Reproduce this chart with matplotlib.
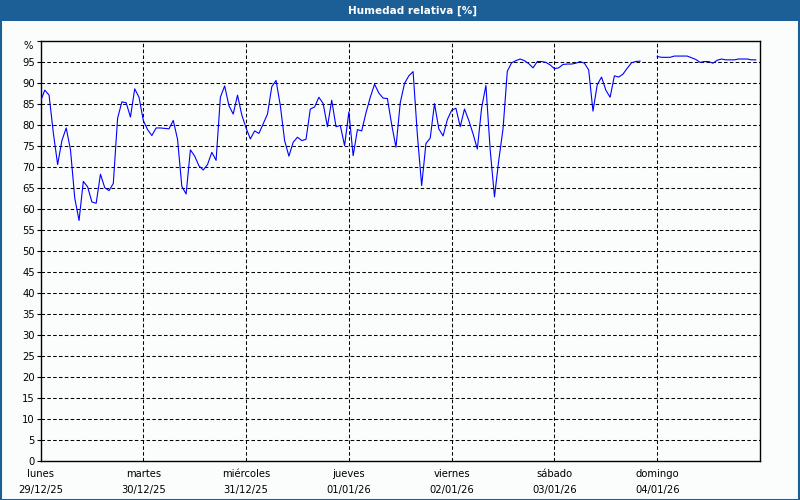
import numpy as np
import matplotlib
matplotlib.use("Agg")
import matplotlib.pyplot as plt
from matplotlib.patches import Rectangle
import matplotlib.transforms as mtransforms

title = "Humedad relativa [%]"
weekdays = ["lunes", "martes", "miércoles", "jueves", "viernes", "sábado", "domingo"]
dates = ["29/12/25", "30/12/25", "31/12/25", "01/01/26", "02/01/26", "03/01/26", "04/01/26"]

nan = np.nan
# hourly relative humidity per day (%)
day1 = [85.5, 88.2, 87.0, 78.0, 70.5, 76.2, 79.2, 74.0, 62.5, 57.2, 66.5, 65.2,
        61.6, 61.3, 68.2, 65.0, 64.3, 66.0, 81.5, 85.4, 85.2, 81.8, 88.5, 86.5]
day2 = [81.0, 78.8, 77.4, 79.2, 79.2, 79.1, 79.0, 81.0, 76.5, 65.3, 63.5, 74.0,
        72.5, 70.2, 69.2, 70.5, 73.4, 71.5, 86.5, 89.2, 84.5, 82.5, 87.0, 82.3]
day3 = [79.2, 76.6, 78.5, 77.9, 80.2, 82.5, 89.0, 90.5, 84.5, 76.2, 72.5, 75.8,
        77.0, 76.2, 76.5, 83.7, 84.2, 86.5, 85.0, 79.5, 85.8, 79.5, 79.8, 75.0]
day4 = [83.0, 72.6, 78.8, 78.5, 82.8, 86.5, 89.6, 87.5, 86.3, 86.2, 80.0, 74.6,
        85.2, 89.8, 91.6, 92.6, 77.5, 65.5, 75.5, 76.8, 85.0, 79.0, 77.3, 81.2]
day5 = [83.4, 83.9, 79.5, 83.7, 81.0, 77.8, 74.2, 84.0, 89.3, 74.0, 62.8, 71.5,
        79.0, 92.7, 94.7, 95.2, 95.6, 95.2, 94.5, 93.5, 95.0, 95.0, 94.8, 94.2]
day6 = [93.3, 93.5, 94.3, 94.4, 94.4, 94.6, 95.0, 94.6, 93.0, 83.2, 89.5, 91.3,
        88.2, 86.5, 91.6, 91.3, 92.0, 93.4, 94.7, 95.0, 95.1, nan, nan, nan]
day7 = [96.2, 96.0, 96.0, 96.0, 96.3, 96.3, 96.3, 96.3, 95.9, 95.5, 94.8, 95.0,
        95.0, 94.6, 95.3, 95.6, 95.4, 95.4, 95.4, 95.6, 95.6, 95.6, 95.4, 95.4]

values = np.array(day1 + day2 + day3 + day4 + day5 + day6 + day7)
t_days = np.arange(len(values)) / 24.0

W, H = 800, 500
fig = plt.figure(figsize=(W / 100, H / 100), dpi=100)
bg = "#fbfdfd"
blue = "#1c5f97"
fig.patch.set_facecolor(bg)

# title bar and window border
fig.add_artist(Rectangle((0, 1 - 21 / H), 1, 21 / H, transform=fig.transFigure,
                         facecolor=blue, edgecolor="none", zorder=0))
fig.add_artist(Rectangle((0.5 / W, 0.5 / H), 1 - 1.5 / W, 1 - 1.5 / H, transform=fig.transFigure,
                         facecolor="none", edgecolor=blue, linewidth=1.5, zorder=5))
fig.text(413 / W, 1 - 10.5 / H, title, color="white", fontsize=7.5, fontweight="bold",
         ha="center", va="center", family="DejaVu Sans")

left, right, top, bottom = 40.5, 760, 40.5, 461
ax = fig.add_axes([left / W, 1 - bottom / H, (right - left) / W, (bottom - top) / H])
ax.set_facecolor(bg)

ax.plot(t_days, values, color="#0000ff", linewidth=0.8, zorder=3)

ax.set_xlim(0, 7)
ax.set_ylim(0, 100)

yt = np.arange(0, 101, 5)
ax.set_yticks(yt)
ax.set_yticklabels([str(v) for v in yt[:-1]] + ["%"], fontsize=7.2)
ax.tick_params(axis="y", length=3, width=0.8, pad=1, direction="out")
# the unit label sits slightly below the top edge
pct_label = ax.get_yticklabels()[-1]
pct_label.set_transform(pct_label.get_transform() +
                        mtransforms.ScaledTranslation(-2 / 100, -4 / 100, fig.dpi_scale_trans))

ax.set_xticks(np.arange(0, 7))
ax.set_xticklabels([f"{d}\n{dt}" for d, dt in zip(weekdays, dates)], fontsize=7.2,
                   linespacing=1.7)
ax.tick_params(axis="x", length=0, pad=6)

dash = (0, (3.4, 2.2))
for v in yt[1:-1]:
    ax.axhline(v, color="black", linewidth=0.75, linestyle=dash, zorder=1)
for d in range(1, 7):
    ax.axvline(d, color="black", linewidth=0.75, linestyle=dash, zorder=1)

for s in ax.spines.values():
    s.set_linewidth(1.0)
    s.set_color("black")

fig.savefig("out.png", dpi=100, facecolor=bg)
